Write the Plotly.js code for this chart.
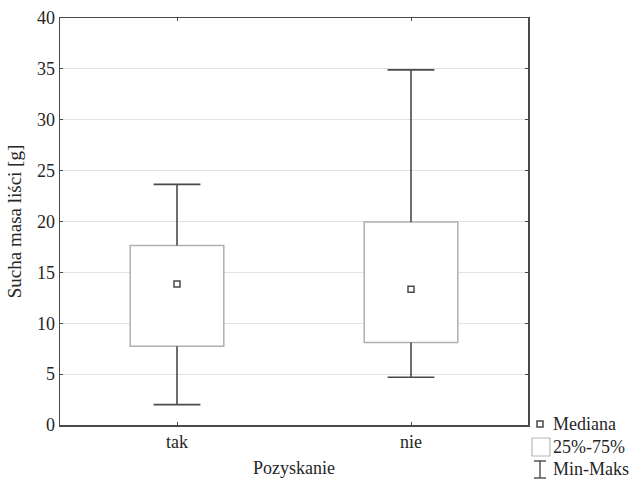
<!DOCTYPE html>
<html>
<head>
<meta charset="utf-8">
<script src="https://cdn.plot.ly/plotly-3.0.1.min.js"></script>
<style>html,body{margin:0;padding:0;background:#fff;}#chart{width:635px;height:481px;}</style>
</head>
<body>
<div id="chart"></div>
<script>
// Data
const categories = ['tak', 'nie'];
const mins    = [2.0, 4.7];
const q1s     = [7.75, 8.1];
const medians = [13.85, 13.35];
const q3s     = [17.65, 19.95];
const maxs    = [23.65, 34.9];
const yTicks  = [0, 5, 10, 15, 20, 25, 30, 35, 40];
const legendLabels = ['Mediana', '25%-75%', 'Min-Maks'];
const xTitle = 'Pozyskanie';
const yTitle = 'Sucha masa liści [g]';

const FONT = 'Liberation Serif, Times New Roman, serif';
const DARK = '#4a4a4a';
const TXT = '#262626';
const capHalf = 0.1;
const boxWidth = 0.4;

const xs = categories.map((c, i) => i);

// whiskers
const wx = [], wy = [];
xs.forEach((x, i) => {
  wx.push(x, x, null, x - capHalf, x + capHalf, null, x, x, null, x - capHalf, x + capHalf, null);
  wy.push(q3s[i], maxs[i], null, maxs[i], maxs[i], null, q1s[i], mins[i], null, mins[i], mins[i], null);
});

const traces = [
  {
    type: 'bar', x: xs, base: q1s, y: q3s.map((v, i) => v - q1s[i]),
    width: boxWidth,
    marker: {color: '#ffffff', line: {color: '#b0b0b0', width: 1.5}},
    hoverinfo: 'skip', showlegend: false
  },
  {
    type: 'scatter', mode: 'lines', x: wx, y: wy,
    line: {color: DARK, width: 1.6}, connectgaps: false,
    hoverinfo: 'skip', showlegend: false
  },
  {
    type: 'scatter', mode: 'markers', x: xs, y: medians,
    marker: {symbol: 'square-open', size: 6, color: DARK, line: {width: 1.5, color: DARK}},
    showlegend: false
  }
];

// legend drawn with paper-referenced shapes/annotations
const L = 60, R = 528, T = 18, B = 425;
const px = v => (v - L) / (R - L);
const py = v => (B - v) / (B - T);
const rowY = [424, 447, 469];

const shapes = [
  {type: 'rect', xref: 'paper', yref: 'paper', x0: px(537), x1: px(543), y0: py(rowY[0] - 3), y1: py(rowY[0] + 3),
   line: {color: DARK, width: 1.5}, fillcolor: 'rgba(0,0,0,0)'},
  {type: 'rect', xref: 'paper', yref: 'paper', x0: px(532), x1: px(550), y0: py(rowY[1] - 9), y1: py(rowY[1] + 9),
   line: {color: '#b8b8b8', width: 1.2}, fillcolor: '#ffffff'},
  {type: 'line', xref: 'paper', yref: 'paper', x0: px(540), x1: px(540), y0: py(rowY[2] - 8), y1: py(rowY[2] + 9),
   line: {color: DARK, width: 1.4}},
  {type: 'line', xref: 'paper', yref: 'paper', x0: px(534), x1: px(546), y0: py(rowY[2] - 8), y1: py(rowY[2] - 8),
   line: {color: DARK, width: 1.4}},
  {type: 'line', xref: 'paper', yref: 'paper', x0: px(534), x1: px(546), y0: py(rowY[2] + 9), y1: py(rowY[2] + 9),
   line: {color: DARK, width: 1.4}}
];

const annotations = legendLabels.map((t, i) => ({
  text: t, xref: 'paper', yref: 'paper', x: px(551), y: py(rowY[i]),
  xanchor: 'left', yanchor: 'middle', showarrow: false,
  font: {family: FONT, size: 18, color: TXT}
}));

const layout = {
  width: 635, height: 481,
  margin: {l: L, r: 635 - R, t: T, b: 481 - B},
  paper_bgcolor: '#ffffff', plot_bgcolor: '#ffffff',
  showlegend: false,
  bargap: 0,
  font: {family: FONT, size: 18, color: TXT},
  xaxis: {
    range: [-0.5, 1.5], tickvals: xs, ticktext: categories,
    showgrid: false, zeroline: false,
    showline: true, linecolor: DARK, linewidth: 1.5, mirror: 'ticks',
    ticks: 'inside', ticklen: 3, tickcolor: DARK,
    tickfont: {family: FONT, size: 18, color: TXT},
    title: {text: xTitle, font: {family: FONT, size: 18, color: TXT}, standoff: 10}
  },
  yaxis: {
    range: [0, 40], tickvals: yTicks,
    showgrid: true, gridcolor: '#e2e2e2', gridwidth: 1, zeroline: false,
    showline: true, linecolor: DARK, linewidth: 1.5, mirror: 'ticks',
    ticks: 'inside', ticklen: 3, tickcolor: DARK,
    tickfont: {family: FONT, size: 18, color: TXT},
    title: {text: yTitle, font: {family: FONT, size: 19, color: TXT}, standoff: 10}
  },
  shapes: shapes,
  annotations: annotations
};

Plotly.newPlot('chart', traces, layout, {staticPlot: true, displayModeBar: false});
</script>
</body>
</html>
